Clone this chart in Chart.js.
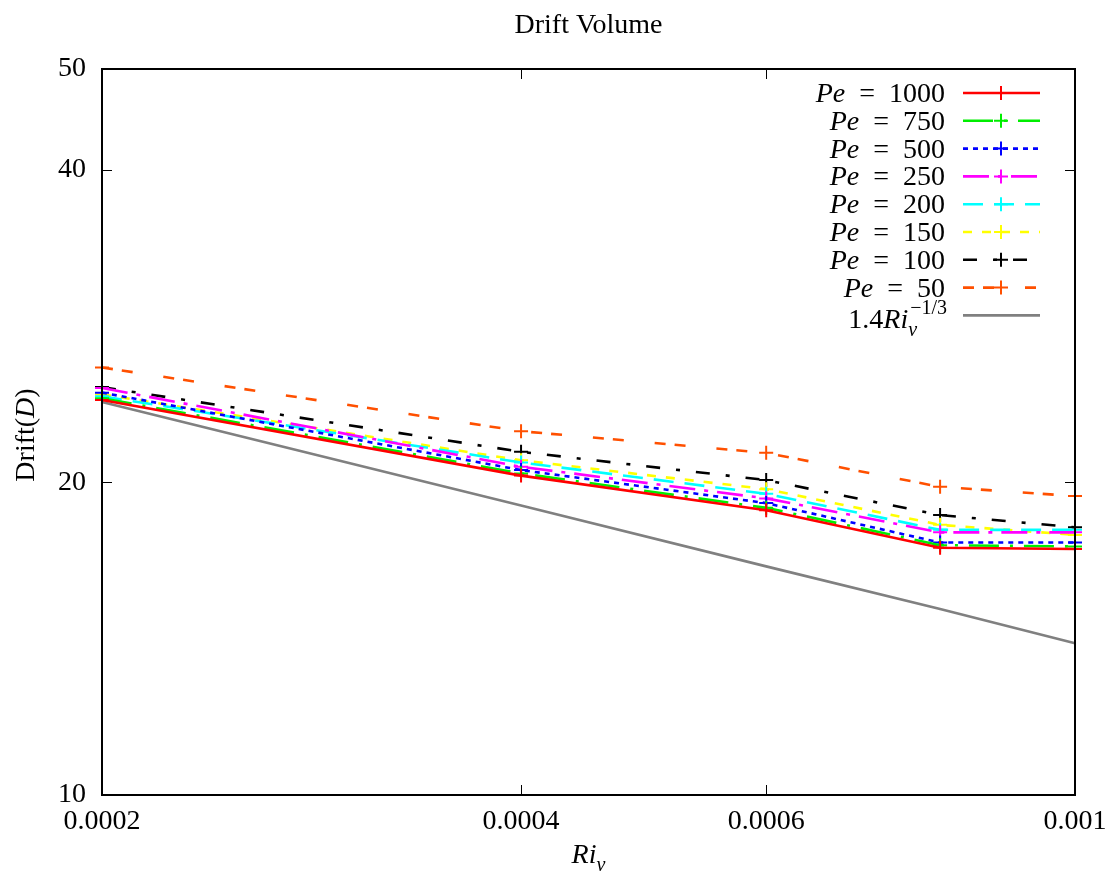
<!DOCTYPE html>
<html>
<head>
<meta charset="utf-8">
<script src="https://cdn.jsdelivr.net/npm/chart.js@4"></script>
<style>
  body { margin: 0; background: #fff; }
  #wrap { width: 1110px; height: 876px; }
</style>
</head>
<body>
<div id="wrap"><canvas id="drift"></canvas></div>
<script>
// values, Ri_v on x, Drift(D) on y (both log)
const riv = [0.0002, 0.0004, 0.0006, 0.0008, 0.001];
const peValues = [1000, 750, 500, 250, 200, 150, 100, 50];
const drift1000 = [24.0, 20.3, 18.8, 17.3, 17.25];
const drift750 = [24.1, 20.4, 18.9, 17.4, 17.35];
const drift500 = [24.4, 20.55, 19.1, 17.5, 17.5];
const drift250 = [24.65, 20.7, 19.3, 17.9, 17.9];
const drift200 = [24.2, 20.9, 19.5, 18.0, 18.0];
const drift150 = [24.3, 21.0, 19.7, 18.2, 17.8];
const drift100 = [24.7, 21.4, 20.1, 18.6, 18.1];
const drift50 = [25.8, 22.4, 21.35, 19.8, 19.4];
const fitLine = [23.9, 19.0, 16.6, 15.1, 14.0];   // 1.4 Ri^-1/3
const xTicks = [0.0002, 0.0004, 0.0006, 0.001];
const yTicks = [10, 20, 40, 50];

const serif = "'Liberation Serif', 'Times New Roman', serif";
const FS = 28;

var series = [drift1000, drift750, drift500, drift250, drift200, drift150, drift100, drift50];
var colors = ['#ff0000', '#00ee00', '#0000ff', '#ff00ff', '#00ffff', '#ffff00', '#000000', '#ff5000'];
var dashes = [[], [30, 11, 3, 11], [5, 5], [26, 9, 4, 9], [20, 11], [9, 10], [14, 16, 4, 16], [11, 9, 11, 31]];

function pts(ys) {
    return riv.map((x, k) => ({x: x, y: ys[k]}));
}

var datasets = series.map((s, k) => ({
    label: 'Pe = ' + peValues[k],
    data: pts(s),
    borderColor: colors[k],
    backgroundColor: colors[k],
    borderDash: dashes[k],
    borderWidth: 2.6,
    pointStyle: 'cross',
    pointRadius: 7,
    pointBorderWidth: 2,
    tension: 0,
    clip: false
}));
datasets.push({
    label: '1.4Ri_v^-1/3',
    data: pts(fitLine),
    borderColor: '#808080',
    borderWidth: 2.6,
    pointRadius: 0,
    tension: 0,
    clip: false
});

// pieces of text: [text, italic, shift] shift: 0 normal, 1 sub, 2 sup
var legendParts = peValues.map(p => [['Pe', true, 0], ['\u2002=\u2002' + p, false, 0]]);
legendParts.push([['1.4', false, 0], ['Ri', true, 0], ['v', true, 1], ['\u22121/3', false, 2]]);

function font(it, small) {
    return (it ? 'italic ' : '') + (small ? 20 : FS) + 'px ' + serif;
}

function partsWidth(ctx, parts) {
    var w = 0, last = 0;
    parts.forEach(p => {
        ctx.font = font(p[1], p[2] > 0);
        var pw = ctx.measureText(p[0]).width;
        if (p[2] == 2 && last) { w = w - last + Math.max(last, pw); last = 0; return; }
        w += pw;
        last = p[2] == 1 ? pw : 0;
    });
    return w;
}

function drawParts(ctx, parts, x, y) {
    var subStart = null;
    parts.forEach(p => {
        ctx.font = font(p[1], p[2] > 0);
        var pw = ctx.measureText(p[0]).width;
        if (p[2] == 1) {
            subStart = x;
            ctx.fillText(p[0], x, y + 8);
            x += pw;
        } else if (p[2] == 2) {
            var sx = subStart != null ? subStart + 2 : x;
            ctx.fillText(p[0], sx, y - 14);
            x = Math.max(x, sx + pw);
        } else {
            ctx.fillText(p[0], x, y);
            x += pw;
            subStart = null;
        }
    });
}

const decor = {
    id: 'decor',
    afterDraw(chart) {
        const ctx = chart.ctx;
        const a = chart.chartArea;
        const xs = chart.scales.x, ys = chart.scales.y;
        ctx.save();
        ctx.fillStyle = '#000';
        ctx.strokeStyle = '#000';

        // inward tick marks, mirrored
        ctx.lineWidth = 1;
        ctx.beginPath();
        xTicks.forEach(v => {
            var px = Math.round(xs.getPixelForValue(v)) + 0.5;
            ctx.moveTo(px, a.bottom); ctx.lineTo(px, a.bottom - 10);
            ctx.moveTo(px, a.top); ctx.lineTo(px, a.top + 10);
        });
        yTicks.forEach(v => {
            var py = Math.round(ys.getPixelForValue(v)) + 0.5;
            ctx.moveTo(a.left, py); ctx.lineTo(a.left + 10, py);
            ctx.moveTo(a.right, py); ctx.lineTo(a.right - 10, py);
        });
        ctx.stroke();

        // frame
        ctx.lineWidth = 2;
        ctx.strokeRect(a.left, a.top, a.right - a.left, a.bottom - a.top);

        // legend
        ctx.textBaseline = 'alphabetic';
        chart.data.datasets.forEach((ds, k) => {
            var ry = 93 + k * 27.8;
            var parts = legendParts[k];
            var w = partsWidth(ctx, parts);
            drawParts(ctx, parts, 945 - w, ry + 9 + (k == 8 ? 4 : 0));
            ctx.save();
            ctx.strokeStyle = ds.borderColor;
            ctx.lineWidth = 2.6;
            ctx.setLineDash(ds.borderDash || []);
            ctx.beginPath();
            ctx.moveTo(963, ry); ctx.lineTo(1040, ry);
            ctx.stroke();
            ctx.setLineDash([]);
            if (ds.pointRadius) {
                ctx.lineWidth = 2;
                ctx.beginPath();
                ctx.moveTo(1001 - 7, ry); ctx.lineTo(1001 + 7, ry);
                ctx.moveTo(1001, ry - 7); ctx.lineTo(1001, ry + 7);
                ctx.stroke();
            }
            ctx.restore();
        });

        // axis titles
        ctx.fillStyle = '#000';
        var xt = [['Ri', true, 0], ['v', true, 1]];
        var xw = partsWidth(ctx, xt);
        drawParts(ctx, xt, (a.left + a.right) / 2 - xw / 2, 863);

        var yt = [['Drift(', false, 0], ['D', true, 0], [')', false, 0]];
        var yw = partsWidth(ctx, yt);
        ctx.translate(34, (a.top + a.bottom) / 2 + 3);
        ctx.rotate(-Math.PI / 2);
        drawParts(ctx, yt, -yw / 2, 0);
        ctx.restore();
    }
};

new Chart(document.getElementById('drift'), {
    type: 'line',
    data: { datasets: datasets },
    options: {
        responsive: true,
        maintainAspectRatio: false,
        animation: false,
        layout: { padding: { top: 0, right: 35, bottom: 0, left: 0 } },
        plugins: {
            legend: { display: false },
            tooltip: { enabled: false },
            title: {
                display: true,
                text: 'Drift Volume',
                fullSize: false,
                color: '#000',
                font: { family: serif, size: 28, weight: 'normal' },
                padding: { top: 9, bottom: 26.4 }
            }
        },
        scales: {
            x: {
                type: 'logarithmic',
                min: 0.0002,
                max: 0.001,
                grid: { display: false, drawTicks: false },
                border: { display: false },
                afterBuildTicks: (scale) => { scale.ticks = xTicks.map(v => ({value: v})); },
                afterFit: (scale) => {
                    scale.height = 81;
                    scale.paddingLeft = 0;
                    scale.paddingRight = 0;
                },
                ticks: {
                    autoSkip: false,
                    maxRotation: 0,
                    padding: 10,
                    color: '#000',
                    font: { family: serif, size: FS },
                    callback: (v) => String(v)
                }
            },
            y: {
                type: 'logarithmic',
                min: 10,
                max: 50,
                grid: { display: false, drawTicks: false },
                border: { display: false },
                afterBuildTicks: (scale) => { scale.ticks = yTicks.map(v => ({value: v})); },
                afterFit: (scale) => { scale.width = 102; },
                ticks: {
                    autoSkip: false,
                    padding: 16,
                    color: '#000',
                    font: { family: serif, size: FS },
                    callback: (v) => String(v)
                }
            }
        }
    },
    plugins: [decor]
});
</script>
</body>
</html>
